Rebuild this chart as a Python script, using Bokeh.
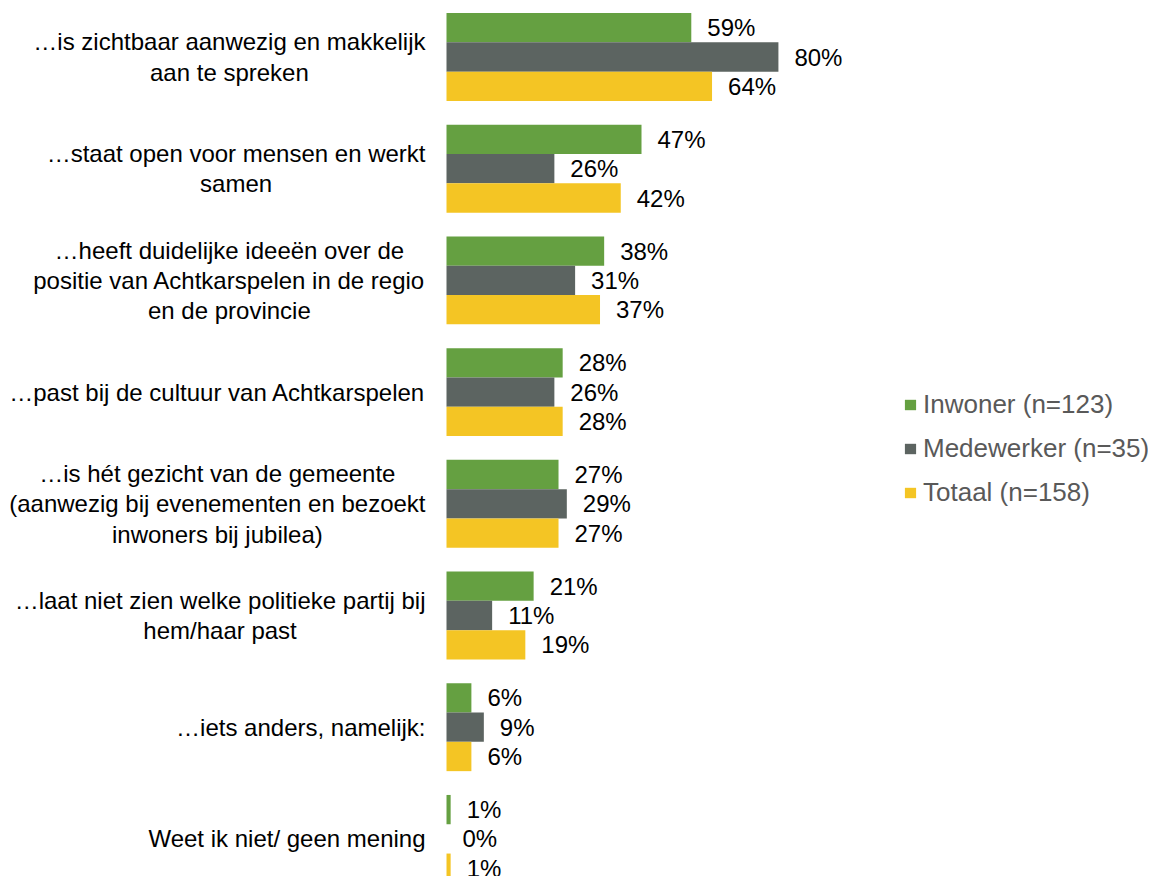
from bokeh.plotting import figure
from bokeh.models import ColumnDataSource, Range1d, Legend, LegendItem
from bokeh.core.properties import value
from bokeh.embed import file_html
from bokeh.resources import INLINE

categories = [
    "…is zichtbaar aanwezig en makkelijk\naan te spreken",
    "…staat open voor mensen en werkt\nsamen",
    "…heeft duidelijke ideeën over de\npositie van Achtkarspelen in de regio\nen de provincie",
    "…past bij de cultuur van Achtkarspelen",
    "…is hét gezicht van de gemeente\n(aanwezig bij evenementen en bezoekt\ninwoners bij jubilea)",
    "…laat niet zien welke politieke partij bij\nhem/haar past",
    "…iets anders, namelijk:",
    "Weet ik niet/ geen mening",
]
series_names = ["Inwoner (n=123)", "Medewerker (n=35)", "Totaal (n=158)"]
inwoner = [59, 47, 38, 28, 27, 21, 6, 1]
medewerker = [80, 26, 31, 26, 29, 11, 9, 0]
totaal = [64, 42, 37, 28, 27, 19, 6, 1]

colors = ["#65A041", "#5C6461", "#F4C524"]
FONT = "Liberation Sans"

W, H = 1148, 876
px_per_unit = 4.149          # px per percent point
x0_px = 446                  # frame px where 0% sits
pitch_px = 111.7             # px per category
first_center_px = 56.5       # px from top to first category centre
bar_h = 29.3 / pitch_px

x_range = Range1d(-x0_px / px_per_unit, (W - x0_px) / px_per_unit)
top = -first_center_px / pitch_px
y_range = Range1d(top + H / pitch_px, top)

p = figure(width=W, height=H, x_range=x_range, y_range=y_range,
           output_backend="svg", toolbar_location=None,
           x_axis_location=None, y_axis_location=None,
           min_border=0, min_border_left=0, min_border_right=0,
           min_border_top=0, min_border_bottom=0)
p.outline_line_color = None
p.xgrid.visible = False
p.ygrid.visible = False
p.background_fill_color = "white"
p.border_fill_color = "white"

idx = list(range(len(categories)))
offsets = [-bar_h, 0.0, bar_h]
renderers = []
for vals, off, col in zip([inwoner, medewerker, totaal], offsets, colors):
    src = ColumnDataSource(dict(
        y=[i + off for i in idx],
        v=vals,
        lbl=[f"{v}%" for v in vals],
    ))
    r = p.hbar(y="y", left=0, right="v", height=bar_h, source=src,
               fill_color=col, line_color=None)
    renderers.append(r)
    p.text(x="v", y="y", text="lbl", source=src, x_offset=16,
           text_align="left", text_baseline="middle",
           text_font=value(FONT), text_font_size="24px", text_color="#000000")

cat_src = ColumnDataSource(dict(y=idx, x=[0] * len(idx), t=categories))
p.text(x="x", y="y", text="t", source=cat_src, x_offset=-21,
       anchor="center_right", text_align="center", text_baseline="middle",
       text_font=value(FONT), text_font_size="24px", text_color="#000000",
       text_line_height=1.12)

legend = Legend(items=[LegendItem(label=n, renderers=[r]) for n, r in zip(series_names, renderers)],
                location=(903, H - 507.5), orientation="vertical")
legend.label_text_font = FONT
legend.label_text_font_size = "26px"
legend.label_text_color = "#595959"
legend.glyph_width = 14
legend.glyph_height = 13
legend.label_standoff = 6
legend.label_height = 31
legend.spacing = 13
legend.padding = 0
legend.margin = 0
legend.border_line_color = None
legend.background_fill_alpha = 0
p.add_layout(legend, "center")

open("out.html", "w").write(file_html(p, INLINE))
